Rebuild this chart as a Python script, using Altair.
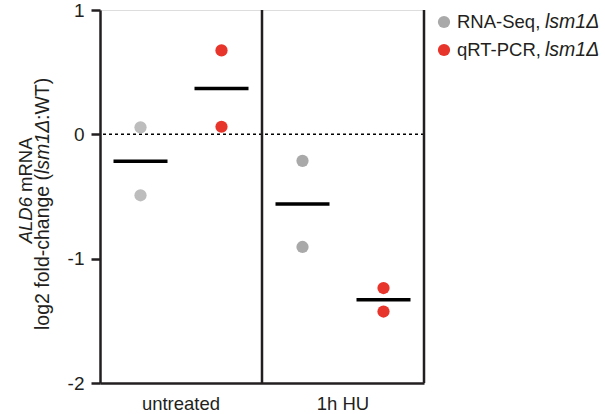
import altair as alt
import pandas as pd

# ---- data ----
conditions = ["untreated", "1h HU"]
methods = ["RNA-Seq", "qRT-PCR"]
rnaseq_untreated = [0.056, -0.49]
qpcr_untreated = [0.675, 0.061]
rnaseq_hu = [-0.213, -0.906]
qpcr_hu = [-1.236, -1.425]
y_ticks = [-2, -1, 0, 1]

series_keys = ["untreated|RNA-Seq", "untreated|qRT-PCR", "1h HU|RNA-Seq", "1h HU|qRT-PCR"]
series_colors = ["#bdbdbd", "#e8352b", "#a9a9a9", "#e8352b"]

rows = []
for cond, meth, vals in [("untreated", "RNA-Seq", rnaseq_untreated),
                         ("untreated", "qRT-PCR", qpcr_untreated),
                         ("1h HU", "RNA-Seq", rnaseq_hu),
                         ("1h HU", "qRT-PCR", qpcr_hu)]:
    for v in vals:
        rows.append({"condition": cond, "method": meth, "value": v, "key": cond + "|" + meth})
df = pd.DataFrame(rows)

INK = "#231f20"
FONT = "Liberation Sans"
FS = 18.5

x_scale = alt.Scale(domain=conditions, paddingInner=0, paddingOuter=0)
x_enc = alt.X("condition:N", scale=x_scale,
              axis=alt.Axis(title=None, labelAngle=0, labelAlign="center", bandPosition=0.5,
                            ticks=False, grid=False,
                            domainColor=INK, domainWidth=2.5, labelFont=FONT,
                            labelFontSize=FS, labelColor=INK, labelPadding=20))
xo_enc = alt.XOffset("method:N", scale=alt.Scale(domain=methods, paddingInner=0, paddingOuter=0))
y_scale = alt.Scale(domain=[-2, 1], nice=False, zero=False)
y_enc = alt.Y("value:Q", scale=y_scale,
              axis=alt.Axis(title=None, values=y_ticks, labelExpr="'' + datum.value",
                            grid=False, tickSize=9, tickWidth=2.5, tickColor=INK,
                            domainColor=INK, domainWidth=2.5, labelFont=FONT,
                            labelFontSize=19, labelColor=INK, labelPadding=7))

base = alt.Chart(df)

points = base.mark_circle(size=150, opacity=1).encode(
    x=x_enc, xOffset=xo_enc, y=y_enc,
    color=alt.Color("key:N", scale=alt.Scale(domain=series_keys, range=series_colors), legend=None),
)

means = base.mark_tick(color="black", thickness=3.5, size=54, opacity=1).encode(
    x=x_enc, xOffset=xo_enc, y=alt.Y("mean(value):Q", scale=y_scale),
)

zero_df = pd.DataFrame({"v": [0]})
zero_line = alt.Chart(zero_df).mark_rule(color="black", strokeWidth=1.5, strokeDash=[3, 3]).encode(
    y=alt.Y("v:Q", scale=y_scale)
)

bound_df = pd.DataFrame({"condition": ["1h HU"]})
divider = alt.Chart(bound_df).mark_rule(color=INK, strokeWidth=2.5).encode(
    x=alt.X("condition:N", scale=x_scale, bandPosition=0)
)
right_edge = alt.Chart(bound_df).mark_rule(color=INK, strokeWidth=2.5).encode(
    x=alt.X("condition:N", scale=x_scale, bandPosition=1)
)

one = pd.DataFrame({"a": [0]})

def txt(text, x, y, italic=False, align="left", angle=0, size=FS):
    return alt.Chart(one).mark_text(
        text=text, font=FONT, fontSize=size, fontStyle="italic" if italic else "normal",
        align=align, baseline="middle", angle=angle, color=INK
    ).encode(x=alt.value(x), y=alt.value(y))

# y-axis title (two lines, rotated, mixed italics)
T2 = 19.5
title_parts = [
    txt("ALD6", -74, 187, italic=True, align="right", angle=270, size=18.5),
    txt("mRNA", -74, 182, align="left", angle=270, size=18.5),
    txt("log2 fold-change (", -57, 320, align="left", angle=270, size=T2),
    txt("lsm1Δ", -57, 164, italic=True, align="left", angle=270, size=T2),
    txt(":WT)", -57, 110, align="left", angle=270, size=T2),
]

# legend
legend_parts = []
legend_items = [("RNA-Seq,", "#a9a9a9", 12), ("qRT-PCR,", "#e8352b", 40)]
for label, col, ly in legend_items:
    legend_parts.append(
        alt.Chart(one).mark_circle(size=150, opacity=1, color=col).encode(x=alt.value(344), y=alt.value(ly))
    )
    legend_parts.append(txt(label, 357, ly, size=18.5))
    legend_parts.append(txt("lsm1Δ", 445, ly, italic=True, size=19.5))

chart = alt.layer(
    zero_line, divider, right_edge, means, points, *title_parts, *legend_parts
).properties(
    width=324, height=373,
    autosize=alt.AutoSizeParams(type="none"),
    padding={"left": 100, "top": 10, "right": 181, "bottom": 31},
).configure_view(stroke=None).configure(background="white")

chart.save("out.html", embed_options={"renderer": "svg", "actions": False})
